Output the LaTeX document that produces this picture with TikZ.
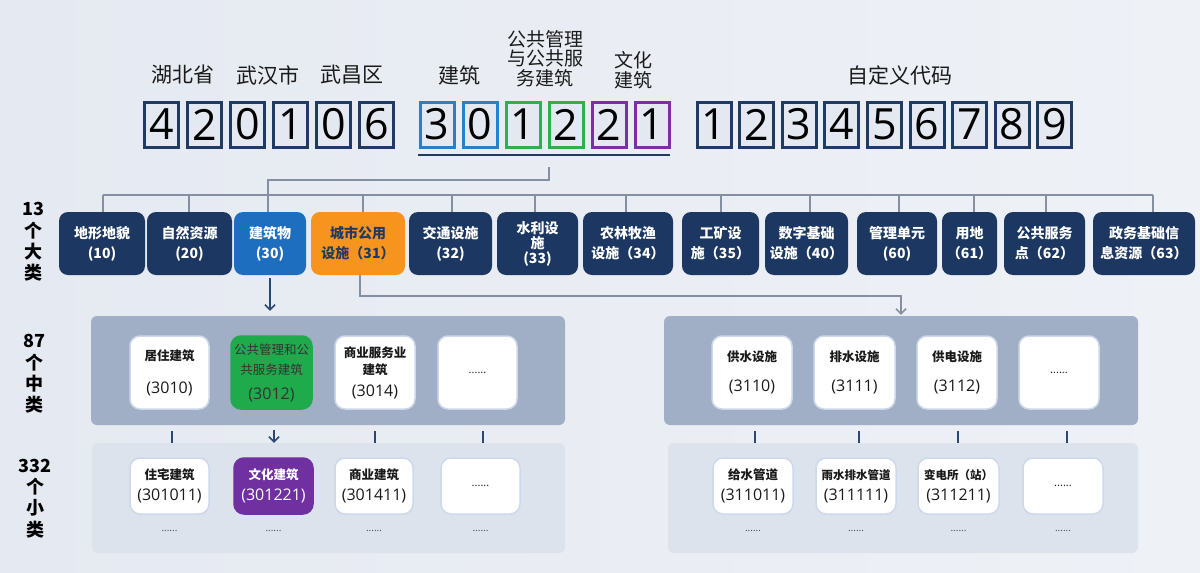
\documentclass[tikz,border=0pt]{standalone}
\usepackage{fontspec}
\setmainfont{Noto Sans CJK SC}
\newfontfamily\numf{Open Sans}
\usetikzlibrary{arrows.meta}
\definecolor{bgL}{HTML}{E5E9F1}
\definecolor{bgR}{HTML}{EEF1F6}
\definecolor{dfill}{HTML}{E4E9F1}
\definecolor{navyb}{HTML}{1F3B63}
\definecolor{blueb}{HTML}{2A7FC9}
\definecolor{greenb}{HTML}{2BB24C}
\definecolor{purpb}{HTML}{7B2FA5}
\definecolor{catn}{HTML}{1C3862}
\definecolor{bld}{HTML}{1D6EBF}
\definecolor{orng}{HTML}{F7941D}
\definecolor{gbox}{HTML}{1FAA4B}
\definecolor{pbox}{HTML}{7030A0}
\definecolor{panm}{HTML}{A0AFC6}
\definecolor{panb}{HTML}{DCE3ED}
\definecolor{lnc}{HTML}{858FA0}
\definecolor{tickc}{HTML}{2C4870}
\definecolor{glow}{HTML}{CCD9EB}
\definecolor{txt}{HTML}{1A1A1A}
\definecolor{dotc}{HTML}{3E4C63}
\newcommand\codef{\numf\mdseries\fontsize{16}{16}\selectfont}
\newcommand\dotsf{\numf\mdseries\fontsize{11}{11}\selectfont}
\tikzset{
  dbox/.style={draw=#1, line width=3pt, fill=dfill, minimum width=34pt, minimum height=45pt,
    inner sep=0pt, text=black, font=\numf\fontsize{43}{43}\selectfont},
  dbox/.default=navyb,
  toplbl/.style={inner sep=0pt, align=center, text=txt, font=\fontsize{21}{24}\selectfont},
  cat/.style={fill=#1, rounded corners=9pt, minimum height=63pt, inner sep=0pt, align=center,
    text=white, font=\bfseries\fontsize{14}{20}\selectfont},
  cat/.default=catn,
  panel/.style={fill=#1, rounded corners=6pt, inner sep=0pt},
  ibox/.style={fill=white, draw=glow, line width=1.5pt, rounded corners=10pt, inner sep=0pt,
    align=center, text=txt, font=\bfseries\fontsize{12.5}{16}\selectfont},
  midb/.style={ibox, minimum width=80pt, minimum height=73pt},
  lowb/.style={ibox, minimum width=79pt, minimum height=56pt},
  side/.style={inner sep=0pt, align=center, text=black, font=\bfseries\fontsize{18}{21.3}\selectfont},
  dotn/.style={inner sep=0pt, text=dotc, font=\numf\fontsize{10}{10}\selectfont},
  conn/.style={draw=lnc, line width=1.5pt},
  tickl/.style={draw=tickc, line width=2pt},
  arr/.style={-{Straight Barb[length=5pt,width=10pt]}}
}
\begin{document}
\begin{tikzpicture}[x=1pt,y=-1pt]
\useasboundingbox (0,0) rectangle (1200,573);
\shade[left color=bgL, right color=bgR] (0,0) rectangle (1200,573);

% ---------- digit boxes ----------
\foreach \d [count=\i from 0] in {4,2,0,1,0,6}
  \node[dbox] (a\i) at ({161.5+43*\i},124.5) {\d};
\node[dbox=blueb]  (b0) at (437,124.5) {3};
\node[dbox=blueb]  (b1) at (480,124.5) {0};
\node[dbox=greenb] (b2) at (523,124.5) {1};
\node[dbox=greenb] (b3) at (566,124.5) {2};
\node[dbox=purpb]  (b4) at (609,124.5) {2};
\node[dbox=purpb]  (b5) at (652,124.5) {1};
\foreach \d [count=\i from 0] in {1,2,3,4,5,6,7,8,9}
  \node[dbox] (c\i) at ({714+42.6*\i},124.5) {\d};

% ---------- top labels ----------
\node[toplbl] (l1) at (183,75) {湖北省};
\node[toplbl] (l2) at (268,75) {武汉市};
\node[toplbl] (l3) at (352,75) {武昌区};
\node[toplbl] (l4) at (459,75) {建筑};
\node[toplbl, font=\fontsize{19}{19.5}\selectfont] (l5) at (545,58.5) {公共管理\\与公共服\\务建筑};
\node[toplbl, font=\fontsize{19}{20}\selectfont] (l6) at (633,70.5) {文化\\建筑};
\node[toplbl] (l7) at (900,75) {自定义代码};

% ---------- underline and tree ----------
\coordinate (ulL) at (418,155);
\coordinate (ulR) at (670,155);
\draw[navyb, line width=2.5pt] (ulL) -- (ulR);
\coordinate (tap) at (549,167);
\coordinate (j1) at (549,180);
\coordinate (j2) at (268,180);
\coordinate (busL) at (103,195);
\coordinate (busR) at (1153,195);

% ---------- 13 categories ----------
\node[cat, minimum width=86pt] (k1) at (102,243.5) {地形地貌\\(10)};
\node[cat, minimum width=85pt] (k2) at (189.5,243.5) {自然资源\\(20)};
\node[cat=bld, minimum width=72pt] (k3) at (270,243.5) {建筑物\\(30)};
\node[cat=orng, text=navyb, minimum width=94pt] (k4) at (358,243.5) {城市公用\\设施（31）};
\node[cat, minimum width=83pt] (k5) at (450.5,243.5) {交通设施\\(32)};
\node[cat, minimum width=81pt, font=\bfseries\fontsize{14}{15}\selectfont] (k6) at (537.5,243.5) {水利设\\施\\(33)};
\node[cat, minimum width=90pt] (k7) at (628,243.5) {农林牧渔\\设施（34）};
\node[cat, minimum width=77pt] (k8) at (720.5,243.5) {工矿设\\施（35）};
\node[cat, minimum width=83pt] (k9) at (806.5,243.5) {数字基础\\设施（40）};
\node[cat, minimum width=80pt] (k10) at (897,243.5) {管理单元\\(60)};
\node[cat, minimum width=55pt] (k11) at (969.5,243.5) {用地\\（61）};
\node[cat, minimum width=81pt] (k12) at (1044.5,243.5) {公共服务\\点（62）};
\node[cat, minimum width=102pt] (k13) at (1144,243.5) {政务基础信\\息资源（63）};

\draw[conn] (tap) -- (j1) -- (j2) -- (j2 |- k3.north);
\draw[conn] (busL) -- (busR);
\foreach \xx/\n in {103/k1,189/k2,363/k4,452/k5,535/k6,626/k7,721/k8,810/k9,899/k10,974/k11,1046/k12,1153/k13} {
  \coordinate (d\n) at (\xx,195);
  \draw[conn] (d\n) -- (d\n |- \n.north);
}

% ---------- side labels ----------
\node[side] (s13) at (33,242) {13\\个\\大\\类};
\node[side] (s87) at (34,374) {87\\个\\中\\类};
\node[side] (s332) at (35,498.5) {332\\个\\小\\类};

% ---------- panels ----------
\node[panel=panm, minimum width=474pt, minimum height=109pt] (pml) at (328,370.5) {};
\node[panel=panb, minimum width=473pt, minimum height=110pt] (pbl) at (328.5,498) {};
\node[panel=panm, minimum width=474pt, minimum height=109pt] (pmr) at (901,370.5) {};
\node[panel=panb, minimum width=470pt, minimum height=110pt] (pbr) at (903,498) {};

% ---------- middle boxes ----------
\node[midb, minimum width=79pt] (m1) at (169.5,372.5) {居住建筑\\[17pt]{\codef (3010)}};
\node[midb, minimum width=81pt, fill=gbox, draw=gbox, text=black!80,
      font=\mdseries\fontsize{12.5}{20}\selectfont] (m2) at (271.5,372.5) {公共管理和公\\共服务建筑\\[5pt]{\codef (3012)}};
\node[midb, font=\bfseries\fontsize{12.5}{17}\selectfont] (m3) at (375,372.5) {商业服务业\\建筑\\[5pt]{\codef (3014)}};
\node[midb, minimum width=79pt] (m4) at (477.5,372.5) {\dotsf ......};
\node[midb] (n1) at (752,372.5) {供水设施\\[14pt]{\codef (3110)}};
\node[midb, minimum width=81pt] (n2) at (854.5,372.5) {排水设施\\[14pt]{\codef (3111)}};
\node[midb] (n3) at (957,372.5) {供电设施\\[14pt]{\codef (3112)}};
\node[midb] (n4) at (1059,372.5) {\dotsf ......};

% ---------- lower boxes ----------
\node[lowb] (q1) at (169.5,486) {住宅建筑\\[5pt]{\codef (301011)}};
\node[lowb, fill=pbox, draw=pbox, text=white] (q2) at (273.5,486) {文化建筑\\[5pt]{\codef (301221)}};
\node[lowb, minimum width=78pt] (q3) at (374,486) {商业建筑\\[5pt]{\codef (301411)}};
\node[lowb] (q4) at (480.5,486) {\dotsf ......};
\node[lowb, minimum width=80pt] (t1) at (753,486) {给水管道\\[5pt]{\codef (311011)}};
\node[lowb, minimum width=80pt, font=\bfseries\fontsize{11.5}{16}\selectfont] (t2) at (856,486) {雨水排水管道\\[5pt]{\codef (311111)}};
\node[lowb, minimum width=81pt, font=\bfseries\fontsize{11.5}{16}\selectfont] (t3) at (958.5,486) {变电所（站）\\[5pt]{\codef (311211)}};
\node[lowb, minimum width=80pt] (t4) at (1063,486) {\dotsf ......};

% ---------- dots under lower boxes ----------
\foreach \n in {q1,q2,q3,q4,t1,t2,t3,t4}
  \node[dotn] (u\n) at (\n.center |- 0,531) {......};

% ---------- connectors between levels ----------
\draw[tickc, line width=1.5pt, arr] ([yshift=-3pt]k3.south) -- ([yshift=5pt]k3.south |- pml.north);
\coordinate (h1) at (901,296);
\draw[conn, arr] ([xshift=2pt]k4.south) |- (h1) -- ([yshift=1pt]h1 |- pmr.north);

\foreach \n/\dx in {m1/2.5,m3/0,m4/5.5,n1/3,n2/4.5,n3/1,n4/8}
  \draw[tickl] ([xshift=\dx pt,yshift=-6pt]\n.south |- pml.south) -- ([xshift=\dx pt]\n.south |- pbl.north);
\draw[tickc, line width=1.5pt, arr] ([xshift=2.5pt,yshift=-5pt]m2.south |- pml.south) -- ([xshift=2.5pt]m2.south |- pbl.north);
\end{tikzpicture}
\end{document}
